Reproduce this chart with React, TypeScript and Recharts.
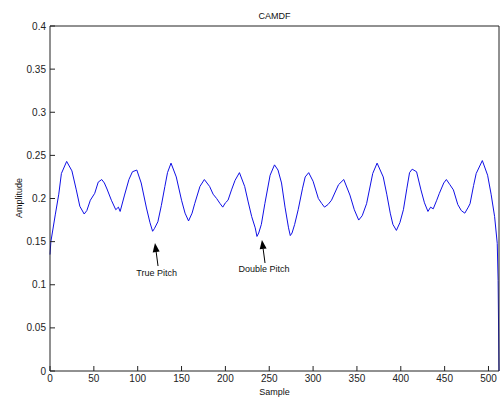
import { LineChart, Line, XAxis, YAxis, ReferenceLine, ReferenceDot } from "recharts";

const samples = [
  0, 1, 6, 10, 13, 19, 25, 30, 34, 39, 42, 46, 51, 55, 59, 62, 65, 70, 75, 78, 80, 85, 90, 94, 99,
  104, 110, 114, 117, 119, 123, 127, 131, 134, 138, 144, 150, 154, 158, 162, 165, 171, 176, 182,
  186, 190, 194, 197, 200, 203, 207, 211, 216, 222, 226, 230, 234, 236, 238, 241, 245, 251, 256,
  260, 264, 268, 272, 274, 276, 279, 283, 288, 291, 295, 300, 306, 310, 313, 317, 321, 329, 335,
  342, 347, 352, 356, 361, 368, 373, 380, 384, 388, 391, 395, 399, 403, 407, 410, 413, 418, 423,
  427, 431, 434, 437, 441, 444, 449, 452, 456, 460, 465, 469, 473, 477, 479, 483, 486, 493, 499,
  503, 507, 510, 511, 512,
];

const amplitude = [
  0.135, 0.15, 0.181, 0.205, 0.229, 0.243, 0.232, 0.21, 0.191, 0.182, 0.186, 0.198, 0.206, 0.219,
  0.222, 0.218, 0.211, 0.198, 0.187, 0.19, 0.185, 0.204, 0.222, 0.231, 0.233, 0.218, 0.189, 0.172,
  0.162, 0.165, 0.173, 0.192, 0.214, 0.23, 0.241, 0.225, 0.198, 0.183, 0.174, 0.183, 0.194, 0.214,
  0.222, 0.214, 0.205, 0.2, 0.194, 0.19, 0.195, 0.198, 0.21, 0.221, 0.23, 0.214, 0.196, 0.179,
  0.166, 0.156, 0.16, 0.17, 0.194, 0.227, 0.239, 0.233, 0.218, 0.19, 0.166, 0.157, 0.16, 0.17,
  0.187, 0.212, 0.225, 0.23, 0.22, 0.2, 0.194, 0.19, 0.193, 0.198, 0.216, 0.222, 0.204, 0.187,
  0.175, 0.18, 0.194, 0.229, 0.241, 0.225, 0.205, 0.183, 0.17, 0.163, 0.172, 0.187, 0.212, 0.23,
  0.234, 0.231, 0.21, 0.195, 0.185, 0.19, 0.188, 0.198, 0.206, 0.218, 0.222, 0.216, 0.21, 0.193,
  0.186, 0.183, 0.19, 0.194, 0.215, 0.229, 0.244, 0.227, 0.205, 0.179, 0.148, 0.105, 0,
];

const xTicks = [0, 50, 100, 150, 200, 250, 300, 350, 400, 450, 500];
const yTicks = [0, 0.05, 0.1, 0.15, 0.2, 0.25, 0.3, 0.35, 0.4];

// annotations: arrow tail -> tip, and where the text sits
const truePitch = { label: "True Pitch", tail: [123.2, 0.1217], tip: [119.7, 0.1484], text: [121.6, 0.1139] };
const doublePitch = { label: "Double Pitch", tail: [245.2, 0.1252], tip: [241.7, 0.1519], text: [244, 0.118] };

const data = samples.map((s, i) => ({ sample: s, amp: amplitude[i] }));

const font = "'Liberation Sans', Arial, sans-serif";
const tickStyle = { fontSize: 10, fill: "#222", fontFamily: font };

const arrow = (p: any) => {
  const { x1, y1, x2, y2 } = p;
  const a = Math.atan2(y2 - y1, x2 - x1);
  const len = 9;
  const half = 3.5;
  const bx = x2 - len * Math.cos(a);
  const by = y2 - len * Math.sin(a);
  const px = -Math.sin(a) * half;
  const py = Math.cos(a) * half;
  return (
    <g>
      <line x1={x1} y1={y1} x2={bx} y2={by} stroke="#000" strokeWidth={1} />
      <polygon points={`${x2},${y2} ${bx + px},${by + py} ${bx - px},${by - py}`} fill="#000" />
    </g>
  );
};

export default function App() {
  const notes = [truePitch, doublePitch];
  return (
    <div style={{ position: "absolute", left: 0, top: 0, width: 500, height: 398, background: "#fff" }}>
      <LineChart width={500} height={398} data={data} margin={{ top: 25, right: 0, bottom: 0, left: 0 }}>
        <XAxis
          dataKey="sample"
          type="number"
          domain={[0, 512]}
          ticks={xTicks}
          height={27}
          tickSize={-5}
          tickMargin={9}
          stroke="#222"
          tick={tickStyle}
          interval={0}
        />
        <XAxis
          xAxisId="top"
          dataKey="sample"
          orientation="top"
          type="number"
          domain={[0, 512]}
          ticks={xTicks}
          height={1}
          tickSize={-5}
          tick={false}
          stroke="#222"
          interval={0}
        />
        <YAxis
          type="number"
          domain={[0, 0.4]}
          ticks={yTicks}
          width={50}
          tickSize={-5}
          tickMargin={9}
          stroke="#222"
          tick={tickStyle}
          interval={0}
        />
        <YAxis
          yAxisId="right"
          orientation="right"
          type="number"
          domain={[0, 0.4]}
          ticks={yTicks}
          width={1}
          tickSize={-5}
          tick={false}
          stroke="#222"
          interval={0}
        />
        <Line
          dataKey="amp"
          type="linear"
          stroke="#1010e6"
          strokeWidth={1}
          dot={false}
          isAnimationActive={false}
        />
        <Line
          dataKey="amp"
          xAxisId="top"
          yAxisId="right"
          stroke="none"
          dot={false}
          activeDot={false}
          legendType="none"
          isAnimationActive={false}
        />
        {notes.map((n) => (
          <ReferenceLine
            key={n.label}
            segment={[
              { x: n.tail[0], y: n.tail[1] },
              { x: n.tip[0], y: n.tip[1] },
            ]}
            shape={arrow}
          />
        ))}
        {notes.map((n) => (
          <ReferenceDot
            key={n.label + "t"}
            x={n.text[0]}
            y={n.text[1]}
            r={0}
            fill="none"
            stroke="none"
            label={{ value: n.label, position: "center", fontSize: 9, fill: "#111", fontFamily: font }}
          />
        ))}
      </LineChart>
      <svg
        width={500}
        height={398}
        style={{ position: "absolute", left: 0, top: 0, pointerEvents: "none" }}
        fontFamily={font}
        fontSize={9}
        fill="#111"
      >
        <text x={274.5} y={19} textAnchor="middle">CAMDF</text>
        <text x={274.5} y={395} textAnchor="middle">Sample</text>
        <text x={22} y={198} textAnchor="middle" transform="rotate(-90 22 198)">Amplitude</text>
      </svg>
    </div>
  );
}
